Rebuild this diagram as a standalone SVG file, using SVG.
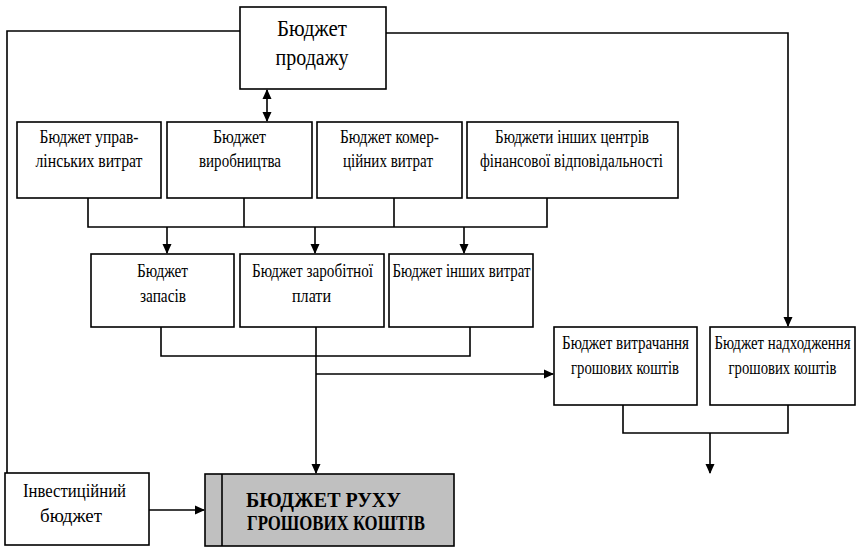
<svg xmlns="http://www.w3.org/2000/svg" width="856" height="547" viewBox="0 0 856 547">
<defs>
<marker id="ah" markerWidth="10" markerHeight="10" refX="9" refY="5" orient="auto-start-reverse" markerUnits="userSpaceOnUse" viewBox="0 0 10 10">
<path d="M0,0.5 L10,5 L0,9.5 Z" fill="#000"/>
</marker>
</defs>
<style>
.box{fill:#fff;stroke:#000;stroke-width:1.6}
.main{fill:#c0c0c0;stroke:#000;stroke-width:1.6}
.ln{fill:none;stroke:#000;stroke-width:1.6}
.t{font-family:"Liberation Serif","Times New Roman",serif;font-size:18.5px;fill:#000;text-anchor:middle}
.tb{font-family:"Liberation Serif","Times New Roman",serif;font-size:23px;fill:#000;text-anchor:middle}
.tm{font-family:"Liberation Serif","Times New Roman",serif;font-size:22px;font-weight:bold;fill:#000;text-anchor:middle}
</style>
<rect width="856" height="547" fill="#fff"/>
<g id="connectors">
<polyline class="ln" points="240,31 7,31 7,473"/>
<polyline class="ln" points="386,33 788,33 788,326" marker-end="url(#ah)"/>
<line class="ln" x1="267" y1="90" x2="267" y2="121" marker-start="url(#ah)" marker-end="url(#ah)"/>
<polyline class="ln" points="88,198 88,227 547,227 547,198"/>
<line class="ln" x1="244" y1="198" x2="244" y2="227"/>
<line class="ln" x1="394" y1="198" x2="394" y2="227"/>
<line class="ln" x1="167" y1="227" x2="167" y2="253" marker-end="url(#ah)"/>
<line class="ln" x1="315" y1="227" x2="315" y2="253" marker-end="url(#ah)"/>
<line class="ln" x1="464" y1="227" x2="464" y2="253" marker-end="url(#ah)"/>
<polyline class="ln" points="161,327 161,356 470,356 470,327"/>
<line class="ln" x1="316" y1="327" x2="316" y2="473" marker-end="url(#ah)"/>
<line class="ln" x1="316" y1="374" x2="553" y2="374" marker-end="url(#ah)"/>
<polyline class="ln" points="623,405 623,433 788,433 788,405"/>
<line class="ln" x1="710" y1="433" x2="710" y2="473" marker-end="url(#ah)"/>
<line class="ln" x1="149" y1="510" x2="204" y2="510" marker-end="url(#ah)"/>
</g>
<g id="n-sales">
<rect class="box" x="240" y="7" width="146" height="82"/>
<text class="tb" x="312" y="36" textLength="70" lengthAdjust="spacingAndGlyphs">Бюджет</text>
<text class="tb" x="312" y="65" textLength="73" lengthAdjust="spacingAndGlyphs">продажу</text>
</g>
<g id="n-mgmt">
<rect class="box" x="17" y="122" width="144" height="76"/>
<text class="t" x="89" y="143" textLength="99" lengthAdjust="spacingAndGlyphs">Бюджет управ-</text>
<text class="t" x="89" y="167" textLength="107" lengthAdjust="spacingAndGlyphs">лінських витрат</text>
</g>
<g id="n-prod">
<rect class="box" x="167" y="122" width="145" height="76"/>
<text class="t" x="239.5" y="143" textLength="53" lengthAdjust="spacingAndGlyphs">Бюджет</text>
<text class="t" x="240" y="167" textLength="82" lengthAdjust="spacingAndGlyphs">виробництва</text>
</g>
<g id="n-comm">
<rect class="box" x="317" y="122" width="145" height="76"/>
<text class="t" x="389.5" y="143" textLength="99" lengthAdjust="spacingAndGlyphs">Бюджет комер-</text>
<text class="t" x="388" y="167" textLength="90" lengthAdjust="spacingAndGlyphs">ційних витрат</text>
</g>
<g id="n-other-centers">
<rect class="box" x="467" y="122" width="211" height="76"/>
<text class="t" x="572" y="143" textLength="154" lengthAdjust="spacingAndGlyphs">Бюджети інших центрів</text>
<text class="t" x="571.5" y="167" textLength="183" lengthAdjust="spacingAndGlyphs">фінансової відповідальності</text>
</g>
<g id="n-stock">
<rect class="box" x="91" y="254" width="143" height="73"/>
<text class="t" x="162.5" y="277" textLength="51" lengthAdjust="spacingAndGlyphs">Бюджет</text>
<text class="t" x="163" y="302" textLength="46" lengthAdjust="spacingAndGlyphs">запасів</text>
</g>
<g id="n-wages">
<rect class="box" x="240" y="254" width="144" height="73"/>
<text class="t" x="312.5" y="277" textLength="121" lengthAdjust="spacingAndGlyphs">Бюджет заробітної</text>
<text class="t" x="311.5" y="302" textLength="39" lengthAdjust="spacingAndGlyphs">плати</text>
</g>
<g id="n-other-exp">
<rect class="box" x="389" y="254" width="144" height="73"/>
<text class="t" x="461.5" y="277" textLength="138" lengthAdjust="spacingAndGlyphs">Бюджет інших витрат</text>
</g>
<g id="n-spend">
<rect class="box" x="554" y="327" width="143" height="78"/>
<text class="t" x="625.5" y="349" textLength="127" lengthAdjust="spacingAndGlyphs">Бюджет витрачання</text>
<text class="t" x="625" y="374" textLength="108" lengthAdjust="spacingAndGlyphs">грошових коштів</text>
</g>
<g id="n-income">
<rect class="box" x="710" y="327" width="145" height="78"/>
<text class="t" transform="translate(782.5,349) scale(0.8,1)" x="0" y="0" textLength="170" lengthAdjust="spacingAndGlyphs">Бюджет надходження</text>
<text class="t" transform="translate(782.5,374) scale(0.8,1)" x="0" y="0" textLength="135" lengthAdjust="spacingAndGlyphs">грошових коштів</text>
</g>
<g id="n-invest">
<rect class="box" x="5" y="473" width="144" height="72"/>
<text class="t" x="74.5" y="497" textLength="103" lengthAdjust="spacingAndGlyphs">Інвестиційний</text>
<text class="t" x="71" y="522" textLength="62" lengthAdjust="spacingAndGlyphs">бюджет</text>
</g>
<g id="n-cashflow">
<rect class="main" x="205" y="474" width="249" height="72"/>
<line class="ln" x1="222" y1="474" x2="222" y2="546"/>
<text class="tm" x="323.5" y="507" textLength="155" lengthAdjust="spacingAndGlyphs">БЮДЖЕТ РУХУ</text>
<text class="tm" x="336" y="530" textLength="178" lengthAdjust="spacingAndGlyphs">ГРОШОВИХ КОШТІВ</text>
</g>
</svg>
